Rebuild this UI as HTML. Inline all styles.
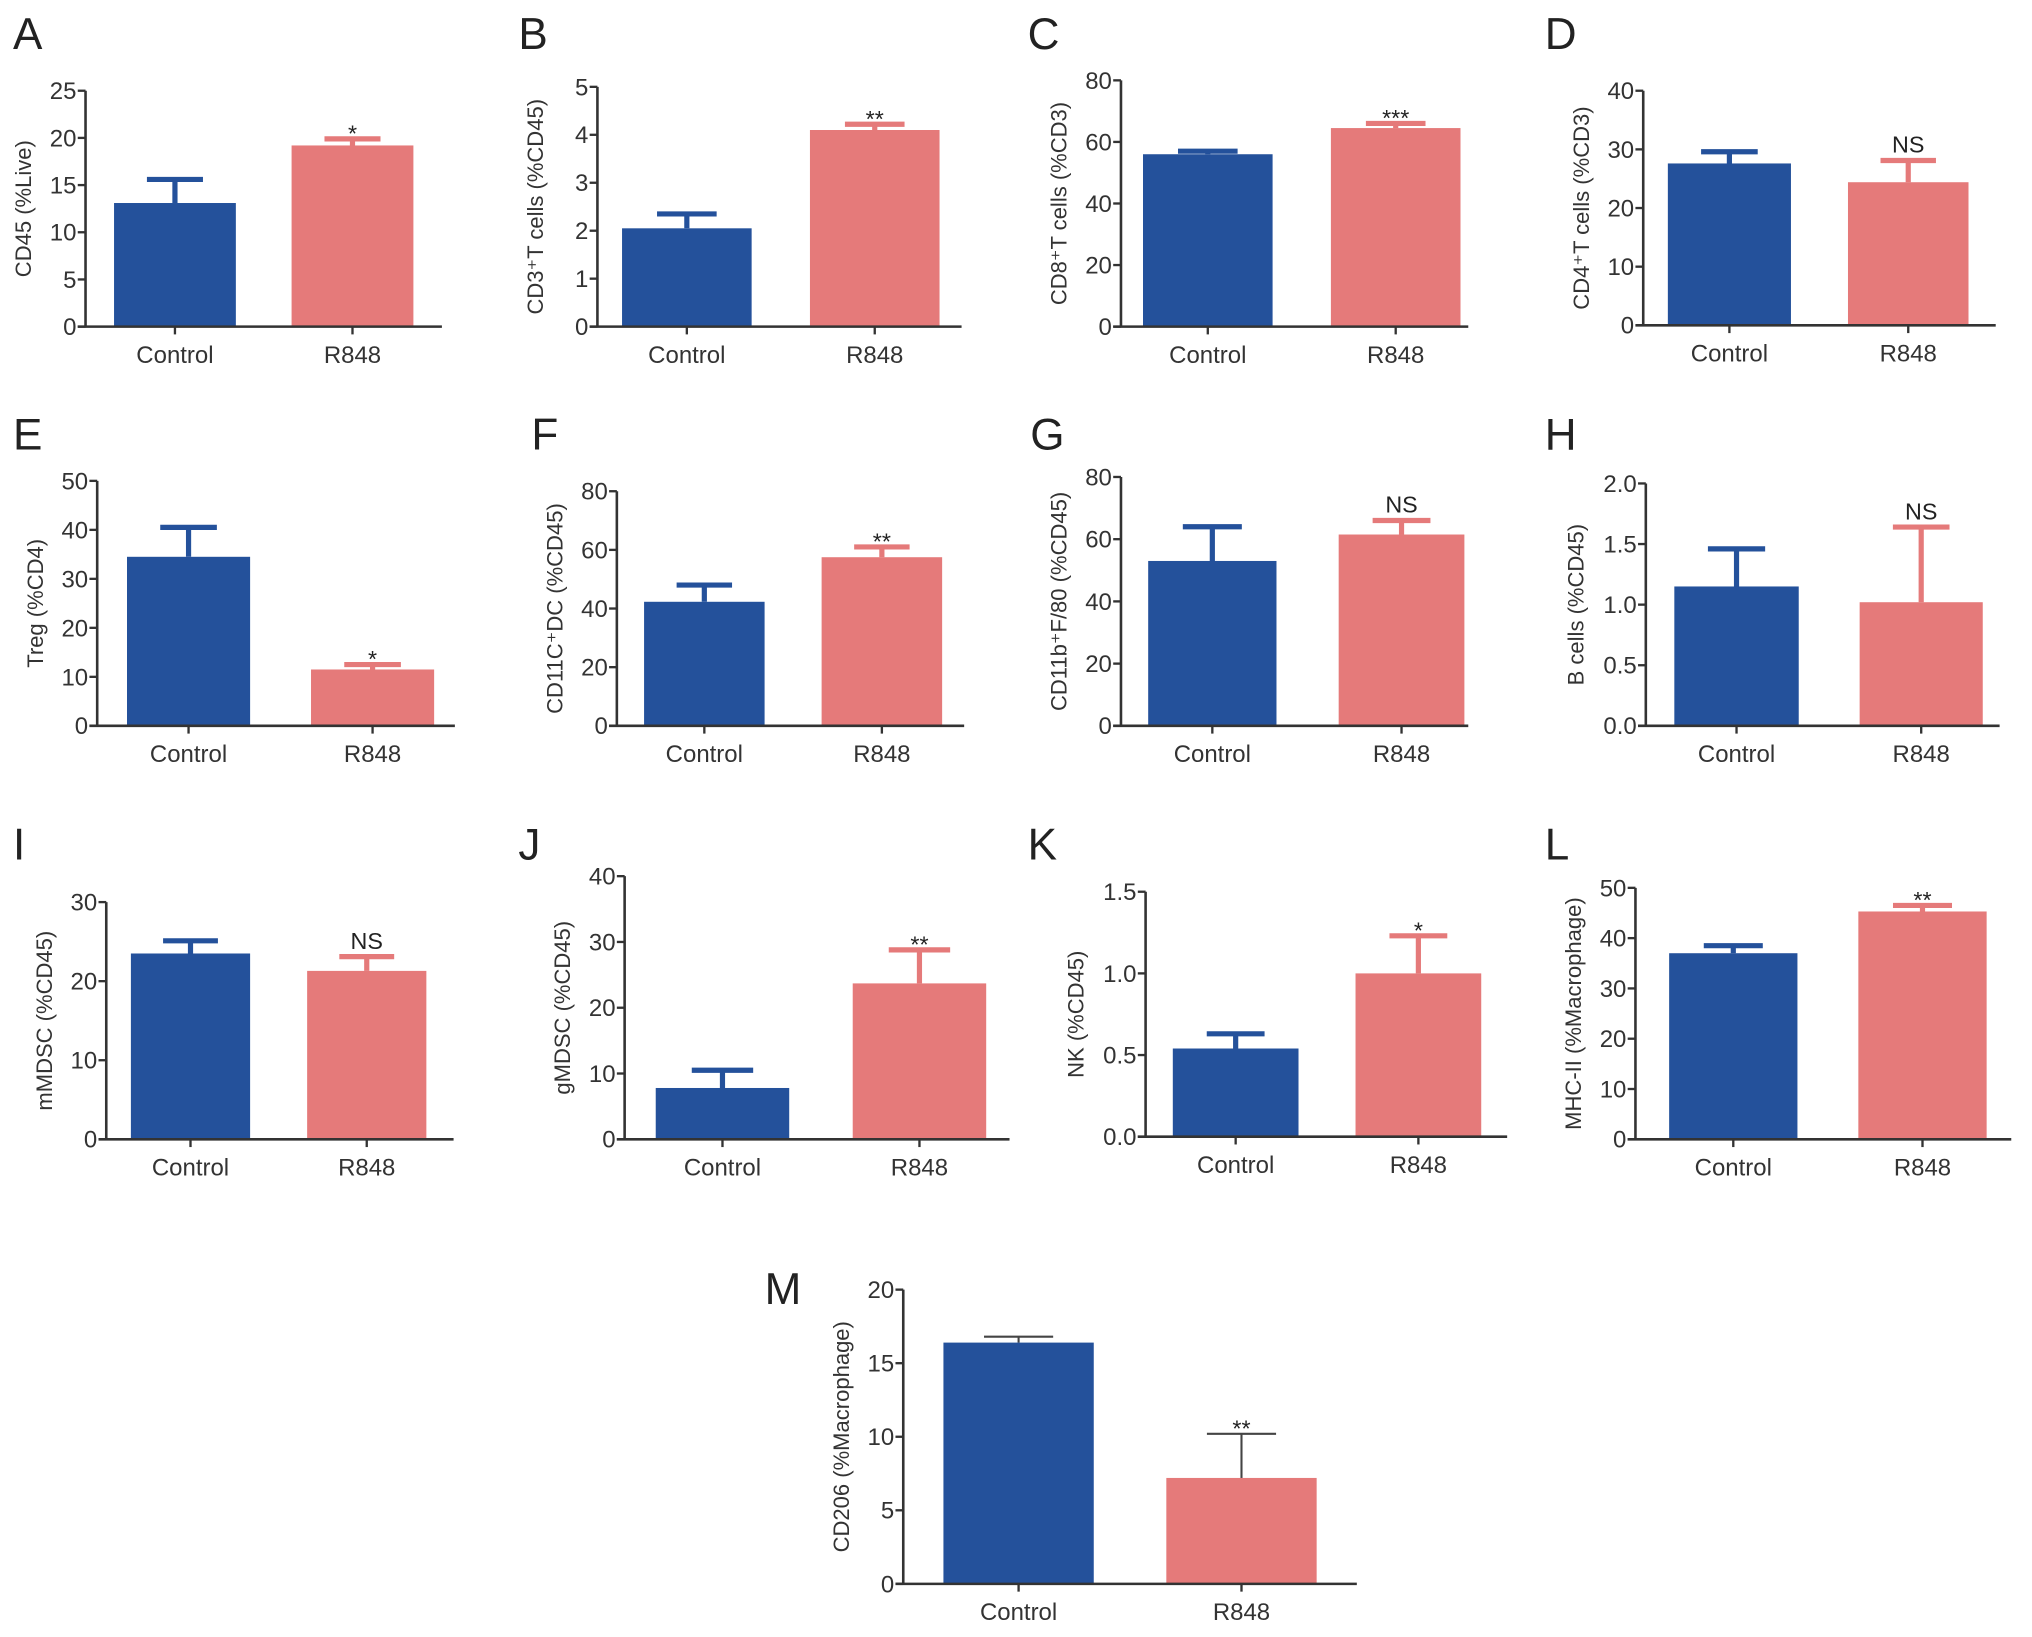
<!DOCTYPE html>
<html><head><meta charset="utf-8">
<style>
html,body{margin:0;padding:0;background:#fff;}
svg{display:block;font-family:"Liberation Sans",Arial,sans-serif;}
</style></head>
<body>
<svg id="fig" width="2032" height="1637" viewBox="0 0 1568 1263" preserveAspectRatio="none" xmlns="http://www.w3.org/2000/svg"></svg>
<script>
// data
const panelIds = ["A","B","C","D","E","F","G","H","I","J","K","L","M"];
const categories = ["Control","R848"];
const controlValues = [13.1, 2.05, 56, 27.6, 34.5, 42.3, 53, 1.15, 23.5, 7.8, 0.54, 37, 16.4];
const controlErrors = [2.5, 0.3, 1, 2, 6, 5.7, 11, 0.31, 1.6, 2.7, 0.09, 1.5, 0.4];
const r848Values = [19.2, 4.1, 64.5, 24.4, 11.5, 57.5, 61.5, 1.02, 21.3, 23.7, 1.0, 45.3, 7.2];
const r848Errors = [0.7, 0.12, 1.5, 3.7, 1, 3.5, 4.5, 0.62, 1.8, 5.1, 0.23, 1.2, 3.0];
const yMaxes = [25, 5, 80, 40, 50, 80, 80, 2.0, 30, 40, 1.5, 50, 20];
const yStepsTicks = [5, 1, 20, 10, 10, 20, 20, 0.5, 10, 10, 0.5, 10, 5];
const tickDecimals = [0,0,0,0,0,0,0,1,0,0,1,0,0];
const significance = ["*","**","***","NS","*","**","NS","NS","NS","**","*","**","**"];
const axisTitles = ["CD45 (%Live)","CD3⁺T cells (%CD45)","CD8⁺T cells (%CD3)","CD4⁺T cells (%CD3)","Treg (%CD4)","CD11C⁺DC (%CD45)","CD11b⁺F/80 (%CD45)","B cells (%CD45)","mMDSC (%CD45)","gMDSC (%CD45)","NK (%CD45)","MHC-II (%Macrophage)","CD206 (%Macrophage)"];

// layout (display coords)
const layout = [
 {ax:66,top:70,y0:252,xe:341,b1:[88,182],b2:[225,319],lx:10,ly:38},
 {ax:461,top:67,y0:252,xe:742,b1:[480,580],b2:[625,725],lx:400,ly:38},
 {ax:865,top:62,y0:252,xe:1133,b1:[882,982],b2:[1027,1127],lx:793,ly:38},
 {ax:1268,top:70,y0:251,xe:1540,b1:[1287,1382],b2:[1426,1519],lx:1192,ly:38},
 {ax:75,top:371,y0:560,xe:351,b1:[98,193],b2:[240,335],lx:10,ly:347},
 {ax:476,top:379,y0:560,xe:744,b1:[497,590],b2:[634,727],lx:410,ly:347},
 {ax:865,top:368,y0:560,xe:1133,b1:[886,985],b2:[1033,1130],lx:795,ly:347},
 {ax:1270,top:373,y0:560,xe:1543,b1:[1292,1388],b2:[1435,1530],lx:1192,ly:347},
 {ax:82,top:696,y0:879,xe:350,b1:[101,193],b2:[237,329],lx:10,ly:663},
 {ax:482,top:676,y0:879,xe:779,b1:[506,609],b2:[658,761],lx:400,ly:663},
 {ax:884,top:688,y0:877,xe:1163,b1:[905,1002],b2:[1046,1143],lx:793,ly:663},
 {ax:1262,top:685,y0:879,xe:1552,b1:[1288,1387],b2:[1434,1533],lx:1192,ly:663},
 {ax:697,top:995,y0:1222,xe:1047,b1:[728,844],b2:[900,1016],lx:590,ly:1006}
];
const colors = ["#24519b","#e57a7a"];
const NS = "http://www.w3.org/2000/svg";
const svg = document.getElementById("fig");
function mk(tag, attrs, parent){
  const e = document.createElementNS(NS, tag);
  for (const k in attrs) e.setAttribute(k, attrs[k]);
  (parent||svg).appendChild(e);
  return e;
}
panelIds.forEach((id,i)=>{
  const L = layout[i];
  const g = mk("g",{});
  
  
  const y = v => L.y0 - (v/yMaxes[i])*(L.y0-L.top);
  const thin = (id==="M");
  const ew = thin ? 1.6 : 4;
  const lt = mk("text",{x:L.lx,y:L.ly,"font-size":34,fill:"#222"},g);
  lt.textContent = id;
  
  
  const vals = [controlValues[i], r848Values[i]];
  const errs = [controlErrors[i], r848Errors[i]];
  [L.b1,L.b2].forEach((b,j)=>{
    const cx=(b[0]+b[1])/2, hw=(b[1]-b[0])*0.23;
    const top=y(vals[j]), et=y(vals[j]+errs[j]);
    const eb = mk("path",{d:`M${cx},${top} V${et} M${cx-hw},${et} H${cx+hw}`,stroke:thin?"#444":colors[j],"stroke-width":ew,fill:"none"},g);
    
    
    const r = mk("rect",{x:b[0],y:top,width:b[1]-b[0],height:L.y0-top,fill:colors[j]},g);
    
    
    const t = mk("text",{x:cx,y:L.y0+28,"font-size":18.5,"text-anchor":"middle",fill:"#333"},g);
    t.textContent = categories[j];
    
    
    mk("line",{x1:cx,x2:cx,y1:L.y0,y2:L.y0+6,stroke:"#333","stroke-width":1.8},g);
  });
  const cx2=(L.b2[0]+L.b2[1])/2;
  const sig = significance[i];
  const st = mk("text",{x:cx2,y:y(r848Values[i]+r848Errors[i])-(sig==="NS"?6:-2),"font-size":sig==="NS"?18:18,"text-anchor":"middle",fill:"#222"},g);
  st.textContent = sig;
  
  
  const ya = mk("line",{x1:L.ax,x2:L.ax,y1:L.top,y2:L.y0,stroke:"#333","stroke-width":2},g);
  
  
  const xa = mk("line",{x1:L.ax-6,x2:L.xe,y1:L.y0,y2:L.y0,stroke:"#333","stroke-width":2},g);
  
  
  for (let v=0; v<=yMaxes[i]+1e-9; v+=yStepsTicks[i]){
    const yy=y(v);
    mk("line",{x1:L.ax-6,x2:L.ax,y1:yy,y2:yy,stroke:"#333","stroke-width":1.8},g);
    const tt = mk("text",{x:L.ax-7,y:yy+6.5,"font-size":18.5,"text-anchor":"end",fill:"#333"},g);
    tt.textContent = v.toFixed(tickDecimals[i]);
    
    
  }
  const my=(L.top+L.y0)/2, tx=L.ax-(tickDecimals[i]?48:42);
  const at = mk("text",{x:tx,y:my,"font-size":17,"text-anchor":"middle",fill:"#333",transform:`rotate(-90 ${tx} ${my})`},g);
  at.textContent = axisTitles[i];
  
  
});
</script>
</body></html>
